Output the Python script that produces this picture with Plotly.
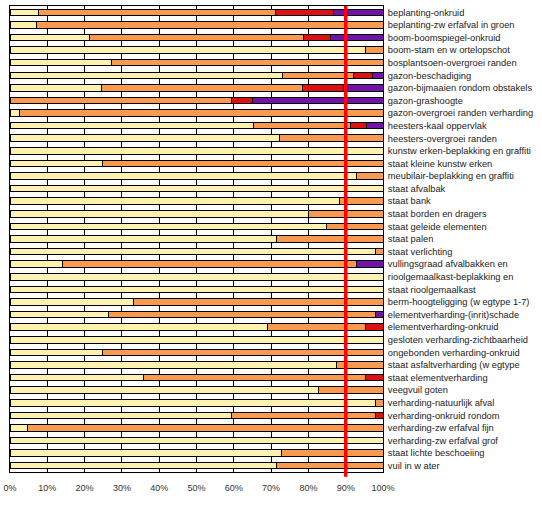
import plotly.graph_objects as go

categories = [
    "beplanting-onkruid", "beplanting-zw erfafval in groen", "boom-boomspiegel-onkruid",
    "boom-stam en w ortelopschot", "bosplantsoen-overgroei randen", "gazon-beschadiging",
    "gazon-bijmaaien rondom obstakels", "gazon-grashoogte", "gazon-overgroei randen verharding",
    "heesters-kaal oppervlak", "heesters-overgroei randen", "kunstw erken-beplakking en graffiti",
    "staat kleine kunstw erken", "meubilair-beplakking en graffiti", "staat afvalbak",
    "staat bank", "staat borden en dragers", "staat geleide elementen", "staat palen",
    "staat verlichting", "vullingsgraad afvalbakken en", "rioolgemaalkast-beplakking en",
    "staat rioolgemaalkast", "berm-hoogteligging (w egtype 1-7)", "elementverharding-(inrit)schade",
    "elementverharding-onkruid", "gesloten verharding-zichtbaarheid", "ongebonden verharding-onkruid",
    "staat asfaltverharding (w egtype", "staat elementverharding", "veegvuil goten",
    "verharding-natuurlijk afval", "verharding-onkruid rondom", "verharding-zw erfafval fijn",
    "verharding-zw erfafval grof", "staat lichte beschoeiing", "vuil in w ater",
]

yellow = [7.7, 7.0, 21.4, 95.3, 27.2, 73.0, 24.4, 0, 2.6, 65.2, 72.2, 100, 24.9, 93.0, 100,
          88.3, 80.0, 84.9, 71.5, 98.0, 14.1, 100, 100, 33.1, 26.3, 69.1, 100, 24.9, 87.5,
          35.8, 82.7, 98.0, 59.4, 4.6, 100, 72.8, 71.5]
orange = [63.5, 93.0, 57.3, 4.7, 72.8, 19.0, 54.0, 59.3, 97.4, 26.2, 27.8, 0, 75.1, 7.0, 0,
          11.7, 20.0, 15.1, 28.5, 2.0, 78.9, 0, 0, 66.9, 71.7, 26.2, 0, 75.1, 12.5,
          59.5, 17.3, 2.0, 38.6, 95.4, 0, 27.2, 28.5]
red = [15.6, 0, 7.1, 0, 0, 5.3, 10.9, 5.7, 0, 4.3, 0, 0, 0, 0, 0,
       0, 0, 0, 0, 0, 0, 0, 0, 0, 0, 4.7, 0, 0, 0,
       4.7, 0, 0, 2.0, 0, 0, 0, 0]
purple = [13.2, 0, 14.2, 0, 0, 2.7, 10.7, 35.0, 0, 4.3, 0, 0, 0, 0, 0,
          0, 0, 0, 0, 0, 7.0, 0, 0, 0, 2.0, 0, 0, 0, 0,
          0, 0, 0, 0, 0, 0, 0, 0]

x_ticks = [0, 10, 20, 30, 40, 50, 60, 70, 80, 90, 100]
x_ticklabels = ["0%", "10%", "20%", "30%", "40%", "50%", "60%", "70%", "80%", "90%", "100%"]
norm_line = 90

series = [
    ("goed", yellow, "#FFF1B0"),
    ("matig", orange, "#FA9A4E"),
    ("slecht", red, "#DD1111"),
    ("zeer slecht", purple, "#7212A8"),
]

fig = go.Figure()
for name, vals, col in series:
    fig.add_trace(go.Bar(
        y=categories,
        x=[v if v > 0 else None for v in vals],
        orientation="h",
        name=name,
        marker=dict(color=col, line=dict(color="#000000", width=1)),
        hoverinfo="x+y",
    ))

fig.add_shape(type="line", xref="x", yref="paper", x0=norm_line, x1=norm_line,
              y0=-0.01, y1=1, line=dict(color="#FF0000", width=3.5))

fig.update_layout(
    barmode="stack",
    bargap=0.48,
    width=542, height=508,
    margin=dict(l=10, r=159, t=6, b=36, autoexpand=False),
    paper_bgcolor="white",
    plot_bgcolor="white",
    showlegend=False,
    font=dict(family="Liberation Sans, Arial, sans-serif", size=9, color="#222222"),
    xaxis=dict(
        range=[0, 100], tickvals=x_ticks, ticktext=x_ticklabels,
        showgrid=True, gridcolor="#000000", gridwidth=1,
        zeroline=False, showline=True, linecolor="#000000", linewidth=1, mirror=True,
        ticks="", tickfont=dict(size=9, color="#333333"), fixedrange=True,
        ticklabelstandoff=7,
    ),
    yaxis=dict(
        categoryorder="array", categoryarray=categories, autorange="reversed",
        side="right", showgrid=False, showline=True, linecolor="#000000", linewidth=1,
        mirror=True, ticks="", tickfont=dict(size=9.3, color="#222222"), fixedrange=True,
        ticklabelstandoff=2,
    ),
)

fig.write_html("out.html", config={"displayModeBar": False},
               post_script="document.body.style.margin='0';document.body.style.padding='0';")
